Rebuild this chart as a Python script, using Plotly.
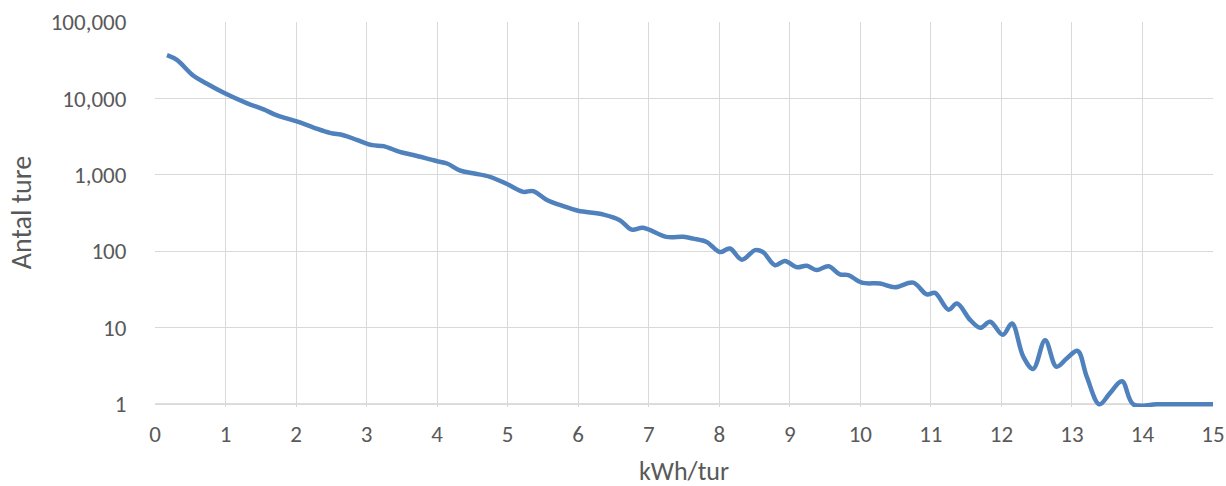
import plotly.graph_objects as go

# kWh per trip (x) and number of trips (y)
kwh = [0.17, 0.31, 0.54, 0.73, 0.99, 1.30, 1.54, 1.73, 2.01, 2.24, 2.48, 2.67, 2.86,
       3.08, 3.24, 3.47, 3.66, 3.99, 4.14, 4.32, 4.51, 4.75, 4.99, 5.22, 5.36, 5.55,
       5.79, 6.00, 6.36, 6.59, 6.76, 6.92, 7.25, 7.49, 7.63, 7.82, 8.01, 8.15, 8.32,
       8.51, 8.62, 8.79, 8.93, 9.10, 9.24, 9.38, 9.55, 9.71, 9.83, 10.02, 10.28, 10.49,
       10.75, 10.94, 11.06, 11.25, 11.37, 11.56, 11.70, 11.84, 12.02, 12.15, 12.31,
       12.45, 12.62, 12.78, 12.93, 13.08, 13.21, 13.39, 13.54, 13.71, 13.87, 14.2,
       14.6, 15.0]
antal = [37000, 32000, 20000, 15700, 11700, 8700, 7200, 6000, 5000, 4200, 3550, 3300, 2880,
         2450, 2380, 2000, 1820, 1520, 1410, 1150, 1050, 945, 760, 600, 615, 475,
         390, 340, 303, 256, 193, 204, 155, 155, 147, 133, 98, 109, 78,
         104, 98, 66, 75, 62, 65, 57, 64, 50, 49, 39, 38, 34,
         39, 27.5, 28.6, 17.3, 20.8, 12.6, 10, 12, 8.1, 11.4, 4.2,
         2.9, 6.9, 3.1, 4.0, 5.0, 2.3, 1, 1.4, 2.0, 1, 1,
         1, 1]

x_ticks = list(range(0, 16))
y_ticks = [1, 10, 100, 1000, 10000, 100000]
y_ticktext = ["1", "10", "100", "1,000", "10,000", "100,000"]
x_title = "kWh/tur"
y_title = "Antal ture"

FONT = "Carlito, Lato, 'Liberation Sans', sans-serif"
TXT = "#595959"

W, H = 1226, 486
L, R, T = 155, 13, 22
ext = 0.035  # small extension below y=1 so the line isn't clipped
plot_h = 382 * (5 + ext) / 5
B = H - T - plot_h
plot_w = W - L - R
bottom_px = T + plot_h

fig = go.Figure()
fig.add_trace(go.Scatter(
    x=kwh, y=antal, mode="lines",
    line=dict(color="#4f81bd", width=4.5, shape="spline", smoothing=1.0),
    hoverinfo="x+y", showlegend=False,
))

fig.add_shape(type="line", xref="paper", yref="paper",
              x0=0, x1=1, y0=ext / (5 + ext), y1=ext / (5 + ext),
              line=dict(color="#bfbfbf", width=1.5), layer="below")

fig.add_annotation(text=x_title, xref="paper", yref="paper",
                   x=0.5, y=-(471 - bottom_px) / plot_h, xanchor="center", yanchor="middle",
                   showarrow=False, font=dict(size=26, color=TXT, family=FONT))
fig.add_annotation(text=y_title, xref="paper", yref="paper", textangle=-90,
                   x=(21 - L) / plot_w, y=(bottom_px - 213) / plot_h,
                   xanchor="center", yanchor="middle",
                   showarrow=False, font=dict(size=28, color=TXT, family=FONT))

fig.update_layout(
    width=W, height=H,
    margin=dict(l=L, r=R, t=T, b=B, pad=0),
    paper_bgcolor="white", plot_bgcolor="white",
    font=dict(family=FONT, color=TXT, size=23),
    xaxis=dict(
        range=[0, 15], tickvals=x_ticks, ticktext=[str(v) for v in x_ticks],
        showgrid=True, gridcolor="#d9d9d9", gridwidth=1.3,
        zeroline=False, showline=False, automargin=False,
        ticks="outside", ticklen=6, tickcolor="rgba(0,0,0,0)",
        tickfont=dict(size=23, color=TXT, family=FONT),
    ),
    yaxis=dict(
        type="log", range=[-ext, 5],
        tickvals=y_ticks, ticktext=y_ticktext,
        showgrid=True, gridcolor="#d9d9d9", gridwidth=1.3,
        zeroline=False, showline=False, automargin=False,
        ticks="outside", ticklen=23, tickcolor="rgba(0,0,0,0)",
        tickfont=dict(size=23, color=TXT, family=FONT),
    ),
)

fig.write_html("out.html", config={"displayModeBar": False},
               post_script="document.body.style.margin='0';document.body.style.padding='0';")
